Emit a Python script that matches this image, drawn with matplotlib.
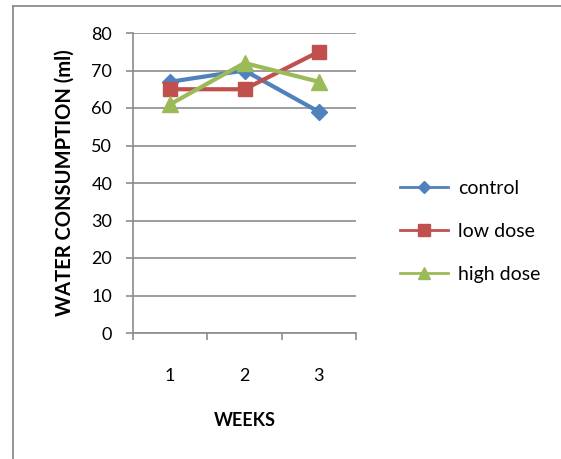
import matplotlib
matplotlib.use("Agg")
import matplotlib.pyplot as plt
from matplotlib.lines import Line2D

plt.rcParams['font.family'] = ['Lato', 'DejaVu Sans']

weeks = [1, 2, 3]
week_labels = ["1", "2", "3"]
control = [67, 70, 59]
low_dose = [65, 65, 75]
high_dose = [61, 72, 67]
series_names = ["control", "low dose", "high dose"]

W, H = 561, 459
fig = plt.figure(figsize=(W / 100, H / 100), dpi=100)

# outer chart frame (top and left edges visible)
fig.add_artist(Line2D([12.5 / W, 12.5 / W], [0, 1 - 5.5 / H], transform=fig.transFigure,
                      color="#8c8c8c", lw=1.3))
fig.add_artist(Line2D([12.5 / W, 1], [1 - 5.5 / H, 1 - 5.5 / H], transform=fig.transFigure,
                      color="#8c8c8c", lw=1.3))

left, right, top, bottom = 133, 356, 33, 333
ax = fig.add_axes([left / W, 1 - bottom / H, (right - left) / W, (bottom - top) / H])

colors = ["#4F81BD", "#C0504D", "#9BBB59"]
markers = ["D", "s", "^"]
msizes = [8, 10, 11]
data = [control, low_dose, high_dose]

for vals, c, m, ms, name in zip(data, colors, markers, msizes, series_names):
    ax.plot(weeks, vals, color=c, lw=3, marker=m, markersize=ms, label=name,
            markeredgecolor=c, solid_capstyle="round", zorder=3)

ax.set_xlim(0.5, 3.5)
ax.set_ylim(0, 80)
ax.set_yticks(range(0, 81, 10))
ax.yaxis.grid(True, color="#8c8c8c", lw=1.2)
ax.set_axisbelow(True)

ax.set_xticks([0.5, 1.5, 2.5, 3.5])
ax.set_xticklabels([])
ax.set_xticks(weeks, minor=True)
ax.set_xticklabels(week_labels, minor=True)
ax.tick_params(axis="x", which="major", length=5, width=1.2, color="#8c8c8c", direction="out")
ax.tick_params(axis="x", which="minor", length=0, pad=25, labelsize=13)
ax.tick_params(axis="y", length=5, width=1.2, color="#8c8c8c", direction="out", pad=10, labelsize=13)

for s in ["top", "right"]:
    ax.spines[s].set_visible(False)
for s in ["left", "bottom"]:
    ax.spines[s].set_color("#8c8c8c")
    ax.spines[s].set_linewidth(1.2)

ax.set_xlabel("WEEKS", fontsize=13, fontweight="bold", labelpad=20)
ax.set_ylabel("WATER CONSUMPTION (ml)", fontsize=14.5, fontweight="bold", labelpad=12)

handles = [Line2D([0], [0], color=c, lw=2, marker=m, markersize=ms * 0.8, markeredgecolor=c)
           for c, m, ms in zip(colors, markers, msizes)]
leg = fig.legend(handles, series_names, loc="upper left", bbox_to_anchor=(382 / W, 1 - 162 / H),
                 frameon=False, fontsize=14, handlelength=2.5, labelspacing=1.35, handletextpad=0.5)

fig.savefig("out.png", dpi=100)
